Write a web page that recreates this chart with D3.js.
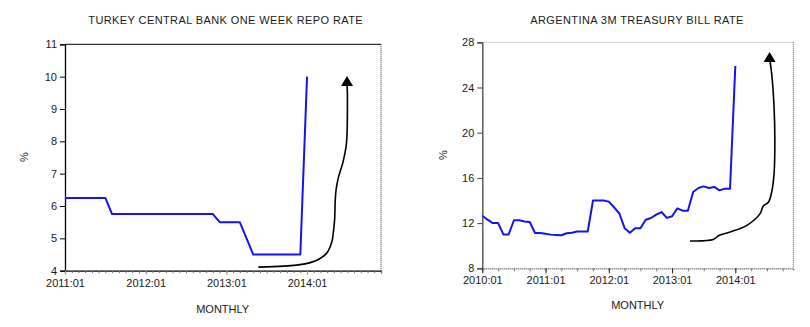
<!DOCTYPE html>
<html><head><meta charset="utf-8">
<script src="https://cdn.jsdelivr.net/npm/d3@7/dist/d3.min.js"></script>
<style>
body{margin:0;background:#fff}
svg{display:block;background:#fff}
text{font-family:"Liberation Sans",Arial,sans-serif;fill:#1a1a1a;font-size:11px}
</style>
</head><body>
<svg id="c" width="810" height="327"></svg>
<script>
// ---------- Turkey: monthly, 2011:01 .. 2014:12 axis ----------
const trTitle = "TURKEY CENTRAL BANK ONE WEEK REPO RATE";
const trStartYear = 2011;
const trMonthsOnAxis = 48;
const trYTicks = [4, 5, 6, 7, 8, 9, 10, 11];
const trXTickLabels = ["2011:01", "2012:01", "2013:01", "2014:01"];
// 2011:01 .. 2014:01
const trValues = [6.25, 6.25, 6.25, 6.25, 6.25, 6.25, 6.25,
  5.75, 5.75, 5.75, 5.75, 5.75, 5.75, 5.75, 5.75, 5.75, 5.75, 5.75, 5.75, 5.75, 5.75, 5.75, 5.75,
  5.5, 5.5, 5.5, 5.5, 5.0,
  4.5, 4.5, 4.5, 4.5, 4.5, 4.5, 4.5, 4.5,
  10.0];
// hand-drawn trend arrow (month index, value)
const trArrowX = [28.76, 32.5, 35.7, 37.2, 38.2, 39.0, 39.7, 39.9, 40.1, 40.2, 40.35, 40.7, 41.3, 41.8, 41.95, 42.0, 42.0, 41.95];
const trArrowY = [4.11, 4.14, 4.21, 4.30, 4.41, 4.56, 4.90, 5.16, 5.57, 6.19, 6.55, 6.91, 7.32, 7.83, 8.25, 8.87, 9.48, 9.74];
const trArrowTip = [41.95, 10.02];

// ---------- Argentina: monthly, 2010:01 .. 2014:12 axis ----------
const arTitle = "ARGENTINA 3M TREASURY BILL RATE";
const arStartYear = 2010;
const arMonthsOnAxis = 60;
const arYTicks = [8, 12, 16, 20, 24, 28];
const arXTickLabels = ["2010:01", "2011:01", "2012:01", "2013:01", "2014:01"];
// 2010:01 .. 2014:01
const arValues = [12.65, 12.3, 12.0, 12.0, 11.0, 11.0, 12.25, 12.25, 12.15, 12.1,
  11.12, 11.12, 11.05, 10.98, 10.95, 10.92, 11.1, 11.15, 11.25, 11.25, 11.25,
  14.0, 14.0, 14.0, 13.9, 13.4, 12.85, 11.55, 11.15, 11.55, 11.55,
  12.3, 12.45, 12.75, 12.98, 12.46, 12.6, 13.3, 13.1, 13.1,
  14.75, 15.1, 15.25, 15.1, 15.2, 14.9, 15.05, 15.05,
  25.9];
const arArrowX = [39.4, 43.8, 44.95, 47.0, 50.2, 52.7, 53.3, 54.3, 54.9, 55.35, 55.5, 55.35, 54.9, 54.6];
const arArrowY = [10.42, 10.54, 10.92, 11.21, 11.8, 12.84, 13.51, 13.87, 14.75, 16.38, 19.33, 22.27, 25.23, 26.26];
const arArrowTip = [54.5, 27.14];

const svg = d3.select("#c");

function drawChart(o) {
  const g = svg.append("g");
  const x = d3.scaleLinear().domain([0, o.months - 1]).range([o.left, o.right]);
  const y = d3.scaleLinear().domain([o.yTicks[0], o.yTicks[o.yTicks.length - 1]]).range([o.bottom, o.top]);

  // frame
  g.append("line").attr("x1", o.left).attr("x2", o.right).attr("y1", o.top).attr("y2", o.top)
    .attr("stroke", o.topColor).attr("stroke-width", 1).attr("stroke-dasharray", o.topDash);
  g.append("line").attr("x1", o.right).attr("x2", o.right).attr("y1", o.top).attr("y2", o.bottom)
    .attr("stroke", o.rightColor).attr("stroke-width", 1).attr("stroke-dasharray", "1,1");

  // y axis
  const ya = g.append("g").attr("transform", `translate(${o.left},0)`)
    .call(d3.axisLeft(y).tickValues(o.yTicks).tickSize(5).tickPadding(3).tickFormat(d3.format("d")));
  ya.select(".domain").attr("stroke", o.axisColor).attr("stroke-width", 1.3);
  ya.selectAll(".tick line").attr("stroke", o.axisColor);
  ya.selectAll("text").attr("fill", "#1a1a1a").style("font-size", "11px").style("font-family", '"Liberation Sans",Arial,sans-serif');

  // x axis minor ticks
  const minor = d3.range(0, o.months, o.minorStep);
  const xa = g.append("g").attr("transform", `translate(0,${o.bottom})`)
    .call(d3.axisBottom(x).tickValues(minor).tickSize(o.minorLen).tickFormat(""));
  xa.select(".domain").attr("stroke", o.axisColor).attr("stroke-width", 1.3).attr("stroke-dasharray", o.bottomDash);
  xa.selectAll(".tick line").attr("stroke", "#777");
  // year ticks and labels
  const yearIdx = o.xLabels.map((d, i) => i * 12);
  const xb = g.append("g").attr("transform", `translate(0,${o.bottom})`)
    .call(d3.axisBottom(x).tickValues(yearIdx).tickSize(o.majorLen).tickPadding(o.labelPad)
      .tickFormat((d, i) => o.xLabels[i]));
  xb.select(".domain").remove();
  xb.selectAll(".tick line").attr("stroke", o.majorColor);
  xb.selectAll("text").attr("fill", "#1a1a1a").style("font-size", "11px").style("font-family", '"Liberation Sans",Arial,sans-serif');

  // title / labels
  g.append("text").attr("x", o.titleX).attr("y", 24).attr("text-anchor", "middle")
    .style("letter-spacing", o.titleSpacing).text(o.title);
  g.append("text").attr("x", o.xLabelX).attr("y", o.xLabelY).attr("text-anchor", "middle").text("MONTHLY");
  g.append("text").attr("transform", `translate(${o.pctX},${o.pctY}) rotate(-90)`)
    .attr("text-anchor", "middle").attr("dy", "0.35em").text("%");

  // series
  const line = d3.line().x((d, i) => x(i)).y(d => y(d));
  g.append("path").datum(o.values).attr("d", line).attr("fill", "none")
    .attr("stroke", "#1414ee").attr("stroke-width", 2).attr("stroke-linejoin", "round");

  // trend arrow
  const pts = o.arrowX.map((v, i) => [v, o.arrowY[i]]);
  const aline = d3.line().x(d => x(d[0])).y(d => y(d[1])).curve(d3.curveCatmullRom.alpha(0.5));
  g.append("path").datum(pts).attr("d", aline).attr("fill", "none")
    .attr("stroke", "#000").attr("stroke-width", 1.6);
  const tx = x(o.tip[0]), ty = y(o.tip[1]);
  g.append("path").attr("d", `M${tx},${ty}L${tx + 6},${ty + 10}L${tx - 6},${ty + 10}Z`).attr("fill", "#000");
}

drawChart({
  left: 65, right: 381, top: 44.3, bottom: 270.7, months: trMonthsOnAxis,
  yTicks: trYTicks, xLabels: trXTickLabels, values: trValues,
  arrowX: trArrowX, arrowY: trArrowY, tip: trArrowTip,
  title: trTitle, titleX: 225.7, titleSpacing: "0.4px",
  xLabelX: 222.7, xLabelY: 313, pctX: 24, pctY: 157,
  minorStep: 1, minorLen: 2.5, majorLen: 4, labelPad: 5, majorColor: "#999",
  axisColor: "#000", topColor: "#000", topDash: null, rightColor: "#333", bottomDash: null
});

drawChart({
  left: 482.3, right: 793.3, top: 42.3, bottom: 268.3, months: arMonthsOnAxis,
  yTicks: arYTicks, xLabels: arXTickLabels, values: arValues,
  arrowX: arArrowX, arrowY: arArrowY, tip: arArrowTip,
  title: arTitle, titleX: 637, titleSpacing: "0.4px",
  xLabelX: 637.7, xLabelY: 309, pctX: 443.3, pctY: 155,
  minorStep: 3, minorLen: 3, majorLen: 5, labelPad: 3, majorColor: "#222",
  axisColor: "#444", topColor: "#aaa", topDash: "1,1", rightColor: "#555", bottomDash: "1,1"
});
</script>
</body></html>
